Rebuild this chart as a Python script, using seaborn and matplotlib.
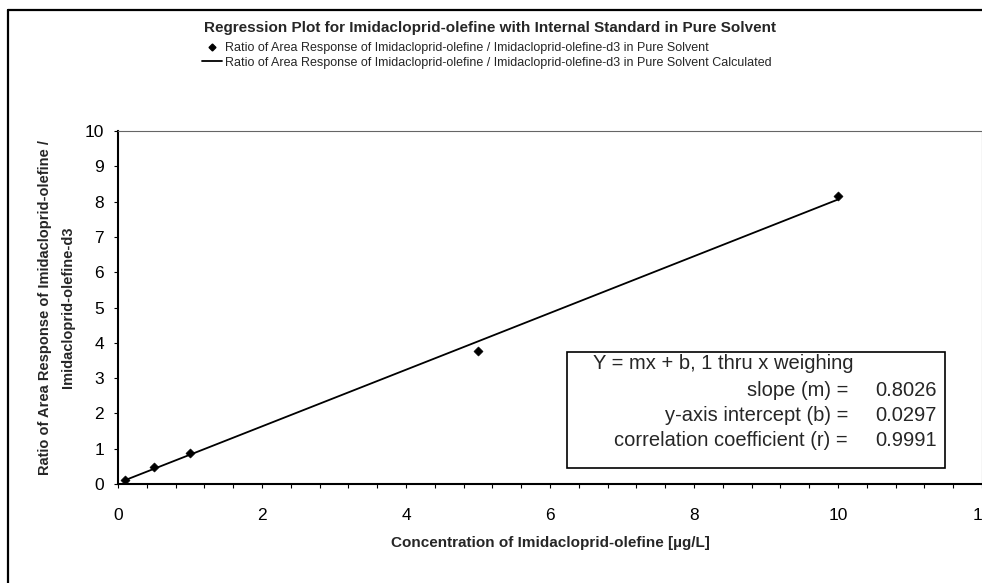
import pandas as pd
import matplotlib.pyplot as plt
import seaborn as sns
from matplotlib.ticker import MultipleLocator
from matplotlib.patches import Rectangle
from matplotlib.lines import Line2D

# Measured points (concentration µg/L, area ratio)
conc = [0.1, 0.5, 1.0, 5.0, 10.0]
ratio = [0.11, 0.47, 0.88, 3.77, 8.15]
# Calculated (regression) ratios
ratio_calc = [0.11, 0.43, 0.83, 4.04, 8.06]

fit_labels = ['slope (m) =', 'y-axis intercept (b) =', 'correlation coefficient (r) =']
fit_values = ['0.8026', '0.0297', '0.9991']

df = pd.DataFrame({'conc': conc, 'ratio': ratio, 'calc': ratio_calc})

sns.set_style('white')
plt.rcParams['font.family'] = ['Liberation Sans', 'DejaVu Sans']

fig = plt.figure(figsize=(9.82, 5.83), dpi=100)
ax = fig.add_axes([118 / 982, 1 - 484 / 583, 1 - 118 / 982, (484 - 131) / 583])

sns.lineplot(x='conc', y='calc', data=df, color='black', linewidth=1.3, ax=ax)
sns.scatterplot(x='conc', y='ratio', data=df, marker='D', s=22, color='black',
                edgecolor='black', ax=ax, zorder=3)

ax.set_xlim(0, 12)
ax.set_ylim(0, 10)
ax.xaxis.set_major_locator(MultipleLocator(2))
ax.xaxis.set_minor_locator(MultipleLocator(0.4))
ax.yaxis.set_major_locator(MultipleLocator(1))
ax.tick_params(axis='both', which='both', direction='out', length=3, width=0.8,
               labelsize=12.5, colors='black', bottom=True, left=True)
ax.tick_params(axis='x', pad=14)
ax.tick_params(axis='y', pad=7)

for side in ['left', 'bottom']:
    ax.spines[side].set_color('black')
    ax.spines[side].set_linewidth(1.5)
for side in ['top', 'right']:
    ax.spines[side].set_color('#666666')
    ax.spines[side].set_linewidth(0.8)
    ax.spines[side].set_linestyle((0, (2, 1)))

ax.set_xlabel('Concentration of Imidacloprid-olefine [µg/L]', fontsize=11,
              fontweight='bold', labelpad=10)
ax.set_ylabel('Ratio of Area Response of Imidacloprid-olefine /\nImidacloprid-olefine-d3',
              fontsize=10.5, fontweight='bold', labelpad=7, linespacing=1.8)

# regression statistics box
ax.add_patch(Rectangle((6.24, 0.45), 5.25, 3.29, fill=True, facecolor='white',
                       edgecolor='black', linewidth=1.2, zorder=4))
ax.text(6.6, 3.42, 'Y = mx + b, 1 thru x weighing', fontsize=14.5, ha='left',
        va='center', zorder=5)
for i, (lab, val) in enumerate(zip(fit_labels, fit_values)):
    yy = 2.66 - i * 0.71
    ax.text(10.14, yy, lab, fontsize=14.5, ha='right', va='center', zorder=5)
    ax.text(11.375, yy, val, fontsize=14.5, ha='right', va='center', zorder=5)

fig.text(490 / 982, 1 - 28 / 583, 'Regression Plot for Imidacloprid-olefine with Internal Standard in Pure Solvent',
         fontsize=11, fontweight='bold', ha='center', va='center')

handles = [
    Line2D([], [], marker='D', color='black', linestyle='none', markersize=3.5),
    Line2D([], [], color='black', linewidth=1.3),
]
labels = [
    'Ratio of Area Response of Imidacloprid-olefine / Imidacloprid-olefine-d3 in Pure Solvent',
    'Ratio of Area Response of Imidacloprid-olefine / Imidacloprid-olefine-d3 in Pure Solvent Calculated',
]
fig.legend(handles, labels, loc='upper left', bbox_to_anchor=(196 / 982, 1 - 36 / 583),
           frameon=False, fontsize=9, handlelength=1.6, handletextpad=0.2,
           labelspacing=0.2, borderpad=0)

# outer chart border (top and left edges visible)
fig.add_artist(Line2D([8 / 982, 8 / 982], [0, 1 - 10 / 583], color='black',
                      linewidth=1.6, transform=fig.transFigure))
fig.add_artist(Line2D([8 / 982, 1], [1 - 10 / 583, 1 - 10 / 583], color='black',
                      linewidth=1.6, transform=fig.transFigure))

fig.savefig('out.png', dpi=100)
